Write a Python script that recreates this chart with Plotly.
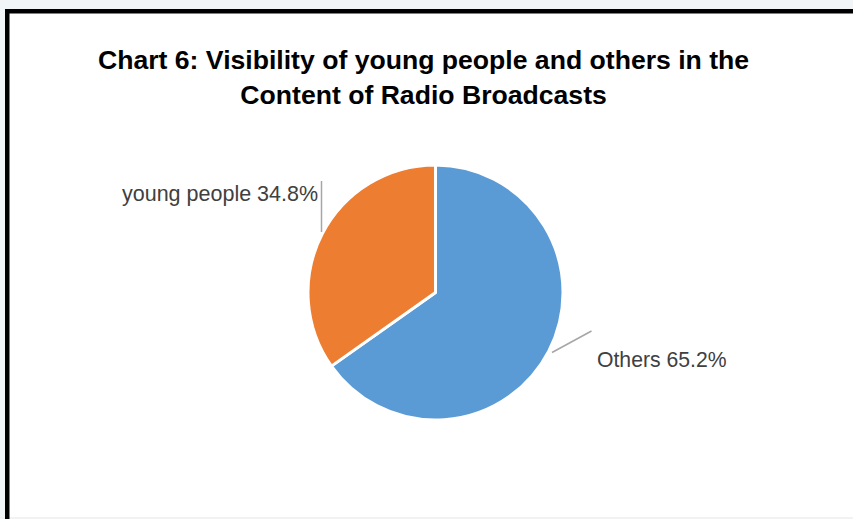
import plotly.graph_objects as go

W, H = 853, 519

# ---- data ----
categories = ["Others", "young people"]
values = [65.2, 34.8]
colors = ["#5B9BD5", "#ED7D31"]
title_lines = ["Chart 6: Visibility of young people and others in the",
               "Content of Radio Broadcasts"]


def px(x):
    return x / W


def py(y):
    return 1 - y / H


fig = go.Figure()
fig.add_trace(go.Pie(
    labels=categories,
    values=values,
    sort=False,
    direction="clockwise",
    rotation=0,
    textinfo="none",
    hoverinfo="label+percent",
    marker=dict(colors=colors, line=dict(color="white", width=3)),
    domain=dict(x=[px(308), px(563)], y=[py(420), py(165)]),
    showlegend=False,
))

shapes = []
# frame decorations (screenshot background and black borders)
shapes.append(dict(type="rect", xref="paper", yref="paper", x0=0, x1=1, y0=py(9), y1=1,
                   fillcolor="#f2f5f8", line=dict(width=0), layer="below"))
shapes.append(dict(type="rect", xref="paper", yref="paper", x0=0, x1=px(5), y0=0, y1=1,
                   fillcolor="#f2f5f8", line=dict(width=0), layer="below"))
shapes.append(dict(type="rect", xref="paper", yref="paper", x0=0, x1=1, y0=0, y1=py(517),
                   fillcolor="#f0f2f4", line=dict(width=0), layer="below"))
shapes.append(dict(type="rect", xref="paper", yref="paper", x0=px(5), x1=1, y0=py(13.5), y1=py(9),
                   fillcolor="black", line=dict(width=0)))
shapes.append(dict(type="rect", xref="paper", yref="paper", x0=px(5), x1=px(9.5), y0=0, y1=py(9),
                   fillcolor="black", line=dict(width=0)))
# leader lines
shapes.append(dict(type="line", xref="paper", yref="paper", x0=px(321.5), x1=px(321.5),
                   y0=py(181), y1=py(232), line=dict(color="#a6a6a6", width=1.5)))
shapes.append(dict(type="line", xref="paper", yref="paper", x0=px(552), x1=px(591.5),
                   y0=py(352.5), y1=py(331), line=dict(color="#a6a6a6", width=1.5)))

annotations = [
    dict(text="<b>" + "<br>".join(title_lines) + "</b>", xref="paper", yref="paper",
         x=px(423), y=py(77), xanchor="center", yanchor="middle", showarrow=False,
         font=dict(family="Liberation Sans, Arial, sans-serif", size=26.6, color="black")),
    dict(text=f"{categories[1]} {values[1]}%", xref="paper", yref="paper",
         x=px(320), y=py(194), xanchor="right", yanchor="middle", showarrow=False,
         font=dict(family="Liberation Sans, Arial, sans-serif", size=21.5, color="#404040")),
    dict(text=f"{categories[0]} {values[0]}%", xref="paper", yref="paper",
         x=px(595), y=py(359.5), xanchor="left", yanchor="middle", showarrow=False,
         font=dict(family="Liberation Sans, Arial, sans-serif", size=21.2, color="#404040")),
]

fig.update_layout(
    width=W, height=H,
    margin=dict(l=0, r=0, t=0, b=0),
    paper_bgcolor="white",
    plot_bgcolor="white",
    shapes=shapes,
    annotations=annotations,
)

fig.write_html("out.html",
               config={"displayModeBar": False},
               post_script="document.body.style.margin='0';document.body.style.overflow='hidden';")
